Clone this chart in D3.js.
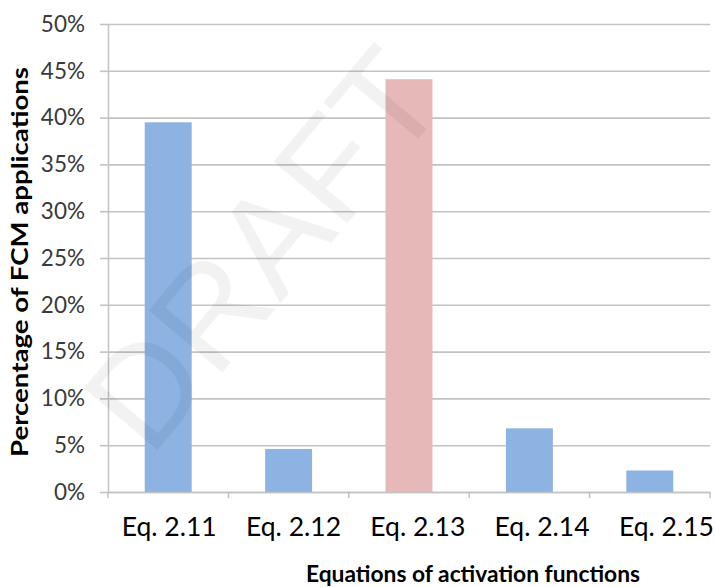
<!DOCTYPE html>
<html>
<head>
<meta charset="utf-8">
<script src="https://cdn.jsdelivr.net/npm/d3@7/dist/d3.min.js"></script>
<style>
  body { margin: 0; background: #fff; }
  svg { display: block; }
</style>
</head>
<body>
<svg id="chart" width="715" height="587"></svg>
<script>
// Share of FCM applications using each activation-function equation (%)
const categories = ["Eq. 2.11", "Eq. 2.12", "Eq. 2.13", "Eq. 2.14", "Eq. 2.15"];
const shares = [39.5, 4.6, 44.1, 6.8, 2.3];
const barColors = ["#8db3e2", "#8db3e2", "#e6b8b7", "#8db3e2", "#8db3e2"];
const yTicks = [0, 5, 10, 15, 20, 25, 30, 35, 40, 45, 50];
const yTitle = "Percentage of FCM applications";
const xTitle = "Equations of activation functions";
const watermark = "DRAFT";

const svg = d3.select("#chart");
const plot = { left: 108, right: 710, top: 24, bottom: 492 };
const gridColor = "#c3c3c3";
const font = "Lato, 'Open Sans', sans-serif";

const x = d3.scaleBand()
  .domain(categories)
  .range([plot.left, plot.right])
  .paddingInner(0.61)
  .paddingOuter(0.305);

const y = d3.scaleLinear()
  .domain([0, 50])
  .range([plot.bottom, plot.top]);

// Y axis with horizontal gridlines
const yAxis = svg.append("g")
  .attr("transform", `translate(${plot.left},0)`)
  .call(d3.axisLeft(y).tickValues(yTicks).tickSize(8).tickPadding(15)
    .tickSizeOuter(0).tickFormat(d => d + "%"));
yAxis.select(".domain").attr("stroke", gridColor).attr("stroke-width", 1.5);
yAxis.selectAll(".tick line").attr("stroke", gridColor).attr("stroke-width", 1.6);
yAxis.selectAll(".tick line").clone()
  .attr("x1", 0).attr("x2", plot.right - plot.left);
yAxis.selectAll(".tick text")
  .attr("fill", "#3a3a3a")
  .style("font-family", font)
  .style("font-size", "22.5px");

// Bars
svg.append("g").selectAll("rect")
  .data(categories)
  .join("rect")
  .attr("x", d => x(d))
  .attr("width", x.bandwidth())
  .attr("y", (d, i) => y(shares[i]))
  .attr("height", (d, i) => y(0) - y(shares[i]))
  .attr("fill", (d, i) => barColors[i]);

// X axis: category labels (spread slightly wider than the bands) and
// small ticks at the band boundaries
const xAxis = svg.append("g")
  .attr("transform", `translate(0,${plot.bottom})`)
  .call(d3.axisBottom(x).tickSize(0).tickSizeOuter(0));
xAxis.select(".domain").attr("stroke", gridColor).attr("stroke-width", 1.6);
xAxis.selectAll(".tick text")
  .attr("dy", null)
  .attr("y", 44)
  .attr("x", (d, i) => 1 + i * 3.9)
  .attr("fill", "#000")
  .style("font-family", font)
  .style("font-size", "26.5px");

const boundaries = categories.map(c => x(c) - (x.step() - x.bandwidth()) / 2)
  .concat([plot.right]);
xAxis.selectAll(".boundary")
  .data(boundaries)
  .join("line")
  .attr("class", "boundary")
  .attr("x1", d => d).attr("x2", d => d)
  .attr("y1", 0).attr("y2", 6)
  .attr("stroke", gridColor).attr("stroke-width", 1.5);

// Axis titles
svg.append("text")
  .attr("transform", "translate(28,262) rotate(-90)")
  .attr("text-anchor", "middle")
  .attr("fill", "#000")
  .style("font-family", font)
  .style("font-weight", "bold")
  .style("font-size", "22px")
  .attr("textLength", 390)
  .attr("lengthAdjust", "spacingAndGlyphs")
  .text(yTitle);

svg.append("text")
  .attr("x", 473)
  .attr("y", 582)
  .attr("text-anchor", "middle")
  .attr("fill", "#000")
  .style("font-family", font)
  .style("font-weight", "bold")
  .style("font-size", "23px")
  .attr("textLength", 334)
  .attr("lengthAdjust", "spacingAndGlyphs")
  .text(xTitle);

// Faint diagonal watermark over the plot
svg.append("text")
  .attr("transform", "translate(300,280) rotate(-50)")
  .attr("text-anchor", "middle")
  .attr("fill", "#000")
  .attr("fill-opacity", 0.05)
  .style("font-family", "'Liberation Sans', Arial, sans-serif")
  .style("font-size", "140px")
  .text(watermark);
</script>
</body>
</html>
